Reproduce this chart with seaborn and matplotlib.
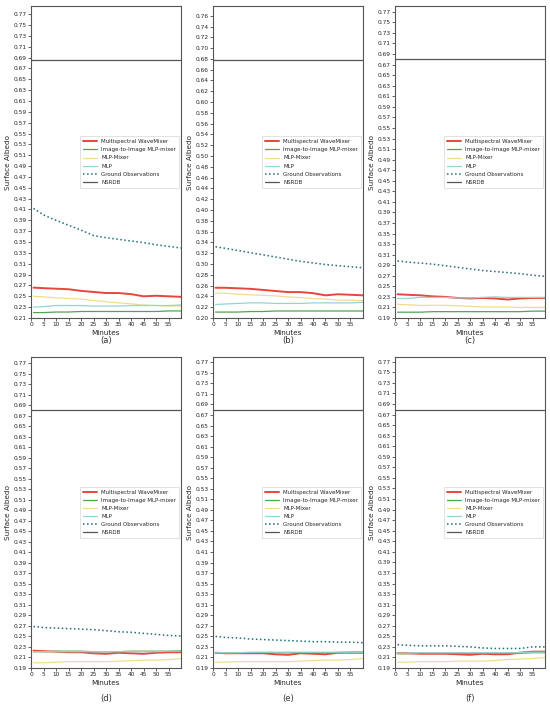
import matplotlib
matplotlib.use("Agg")
import matplotlib.pyplot as plt
import numpy as np
import pandas as pd
import seaborn as sns

minutes = [1, 5, 10, 15, 20, 25, 30, 35, 40, 45, 50, 55, 60]
series_names = ["Multispectral WaveMixer", "Image-to-Image MLP-mixer", "MLP-Mixer", "MLP", "Ground Observations"]
panel_labels = ["(a)", "(b)", "(c)", "(d)", "(e)", "(f)"]
y_bottoms = [0.21, 0.20, 0.19, 0.19, 0.19, 0.19]
nsrdb = [0.685, 0.678, 0.681, 0.682, 0.680, 0.679]

wavemixer = [
    [0.266, 0.265, 0.264, 0.263, 0.260, 0.258, 0.256, 0.256, 0.254, 0.250, 0.251, 0.250, 0.249],
    [0.256, 0.256, 0.255, 0.254, 0.252, 0.250, 0.248, 0.248, 0.246, 0.242, 0.244, 0.243, 0.242],
    [0.235, 0.234, 0.233, 0.231, 0.230, 0.228, 0.227, 0.228, 0.227, 0.225, 0.227, 0.228, 0.228],
    [0.223, 0.222, 0.221, 0.220, 0.220, 0.218, 0.217, 0.219, 0.218, 0.217, 0.219, 0.220, 0.220],
    [0.219, 0.218, 0.218, 0.218, 0.218, 0.216, 0.215, 0.218, 0.217, 0.216, 0.219, 0.219, 0.219],
    [0.218, 0.218, 0.217, 0.217, 0.217, 0.216, 0.215, 0.217, 0.216, 0.216, 0.219, 0.221, 0.221],
]
img2img = [
    [0.220, 0.220, 0.221, 0.221, 0.222, 0.222, 0.222, 0.222, 0.222, 0.222, 0.222, 0.223, 0.223],
    [0.211, 0.211, 0.211, 0.212, 0.212, 0.213, 0.213, 0.213, 0.213, 0.213, 0.213, 0.213, 0.213],
    [0.201, 0.201, 0.201, 0.202, 0.202, 0.202, 0.202, 0.202, 0.202, 0.202, 0.202, 0.203, 0.203],
    [0.221, 0.221, 0.222, 0.222, 0.222, 0.221, 0.221, 0.221, 0.222, 0.222, 0.222, 0.222, 0.223],
    [0.218, 0.218, 0.219, 0.219, 0.219, 0.219, 0.219, 0.219, 0.219, 0.219, 0.219, 0.220, 0.220],
    [0.217, 0.217, 0.218, 0.218, 0.218, 0.218, 0.218, 0.218, 0.218, 0.218, 0.218, 0.219, 0.219],
]
mlp_mixer = [
    [0.250, 0.249, 0.247, 0.246, 0.245, 0.242, 0.240, 0.238, 0.236, 0.234, 0.233, 0.232, 0.232],
    [0.246, 0.246, 0.244, 0.243, 0.242, 0.241, 0.239, 0.238, 0.236, 0.235, 0.233, 0.233, 0.232],
    [0.216, 0.215, 0.214, 0.214, 0.214, 0.213, 0.212, 0.211, 0.211, 0.211, 0.210, 0.210, 0.210],
    [0.200, 0.200, 0.201, 0.202, 0.202, 0.202, 0.202, 0.203, 0.204, 0.205, 0.205, 0.206, 0.208],
    [0.201, 0.201, 0.202, 0.202, 0.202, 0.202, 0.202, 0.203, 0.204, 0.205, 0.205, 0.206, 0.208],
    [0.201, 0.201, 0.202, 0.202, 0.202, 0.203, 0.203, 0.203, 0.204, 0.206, 0.207, 0.208, 0.210],
]
mlp = [
    [0.230, 0.231, 0.233, 0.233, 0.233, 0.232, 0.232, 0.232, 0.233, 0.233, 0.233, 0.233, 0.234],
    [0.225, 0.226, 0.227, 0.228, 0.228, 0.227, 0.227, 0.227, 0.228, 0.228, 0.228, 0.228, 0.229],
    [0.227, 0.227, 0.229, 0.229, 0.229, 0.228, 0.228, 0.229, 0.230, 0.229, 0.229, 0.229, 0.229],
    [0.221, 0.221, 0.221, 0.221, 0.221, 0.221, 0.221, 0.221, 0.221, 0.221, 0.221, 0.222, 0.222],
    [0.219, 0.219, 0.219, 0.220, 0.220, 0.220, 0.220, 0.220, 0.220, 0.220, 0.220, 0.220, 0.220],
    [0.218, 0.218, 0.219, 0.219, 0.219, 0.219, 0.219, 0.219, 0.219, 0.219, 0.219, 0.220, 0.220],
]
ground_obs = [
    [0.412, 0.400, 0.390, 0.381, 0.372, 0.362, 0.358, 0.355, 0.352, 0.349, 0.345, 0.342, 0.339],
    [0.332, 0.329, 0.325, 0.321, 0.317, 0.313, 0.309, 0.305, 0.302, 0.299, 0.297, 0.295, 0.293],
    [0.298, 0.296, 0.294, 0.292, 0.289, 0.286, 0.283, 0.280, 0.278, 0.276, 0.274, 0.271, 0.269],
    [0.269, 0.267, 0.266, 0.265, 0.264, 0.263, 0.261, 0.259, 0.258, 0.256, 0.254, 0.252, 0.251],
    [0.250, 0.248, 0.247, 0.245, 0.244, 0.243, 0.242, 0.241, 0.240, 0.240, 0.239, 0.239, 0.238],
    [0.234, 0.233, 0.232, 0.232, 0.232, 0.231, 0.230, 0.228, 0.227, 0.227, 0.227, 0.230, 0.230],
]

colors = {
    "Multispectral WaveMixer": "#e8453c",
    "Image-to-Image MLP-mixer": "#4fa64f",
    "MLP-Mixer": "#f2dc8c",
    "MLP": "#97d3d3",
    "Ground Observations": "#1f6e7e",
}
widths = {
    "Multispectral WaveMixer": 1.4,
    "Image-to-Image MLP-mixer": 0.9,
    "MLP-Mixer": 0.9,
    "MLP": 0.9,
    "Ground Observations": 1.1,
}

sns.set_style("ticks")
plt.rcParams["font.family"] = ["DejaVu Sans"]

fig = plt.figure(figsize=(5.5, 7.06), dpi=100)
W, H = 550, 706
lefts = [31, 213, 395]
rows = [(6, 318), (357, 668)]
label_y = [341, 698]

for i in range(6):
    r, c = divmod(i, 3)
    top, bottom = rows[r]
    ax = fig.add_axes([lefts[c] / W, 1 - bottom / H, 150 / W, (bottom - top) / H])
    data = pd.DataFrame({
        "Minutes": minutes * 5,
        "Albedo": wavemixer[i] + img2img[i] + mlp_mixer[i] + mlp[i] + ground_obs[i],
        "Series": np.repeat(series_names, len(minutes)),
    })
    for name in series_names:
        sub = data[data["Series"] == name]
        sns.lineplot(data=sub, x="Minutes", y="Albedo", ax=ax, color=colors[name],
                     linewidth=widths[name], linestyle=":" if name == "Ground Observations" else "-",
                     label=name)
    ax.axhline(nsrdb[i], color="#555555", linewidth=0.9, label="NSRDB")

    ymin, ymax = y_bottoms[i], nsrdb[i] + 0.1
    ax.set_ylim(ymin, ymax)
    ax.set_yticks(np.arange(ymin, ymax - 0.001, 0.02))
    ax.yaxis.set_major_formatter(matplotlib.ticker.FormatStrFormatter("%.2f"))
    ax.set_xlim(0, 60)
    ax.set_xticks(np.arange(0, 60, 5))
    ax.tick_params(labelsize=4.2, length=2, width=0.5, pad=1)
    for s in ax.spines.values():
        s.set_color("#555555")
        s.set_linewidth(0.8)
    ax.set_xlabel("Minutes", fontsize=5.2, labelpad=2)
    ax.set_ylabel("Surface Albedo", fontsize=5.2, labelpad=2)
    leg = ax.legend(loc="center right", fontsize=4.0, frameon=True, handlelength=2.4,
                    borderpad=0.6, labelspacing=0.55, fancybox=False, borderaxespad=0.3)
    leg.get_frame().set_edgecolor("#cccccc")
    leg.get_frame().set_linewidth(0.5)
    fig.text((lefts[c] + 75) / W, 1 - label_y[r] / H, panel_labels[i],
             ha="center", va="center", fontsize=6, color="#333333")

fig.savefig("out.png", dpi=100)
